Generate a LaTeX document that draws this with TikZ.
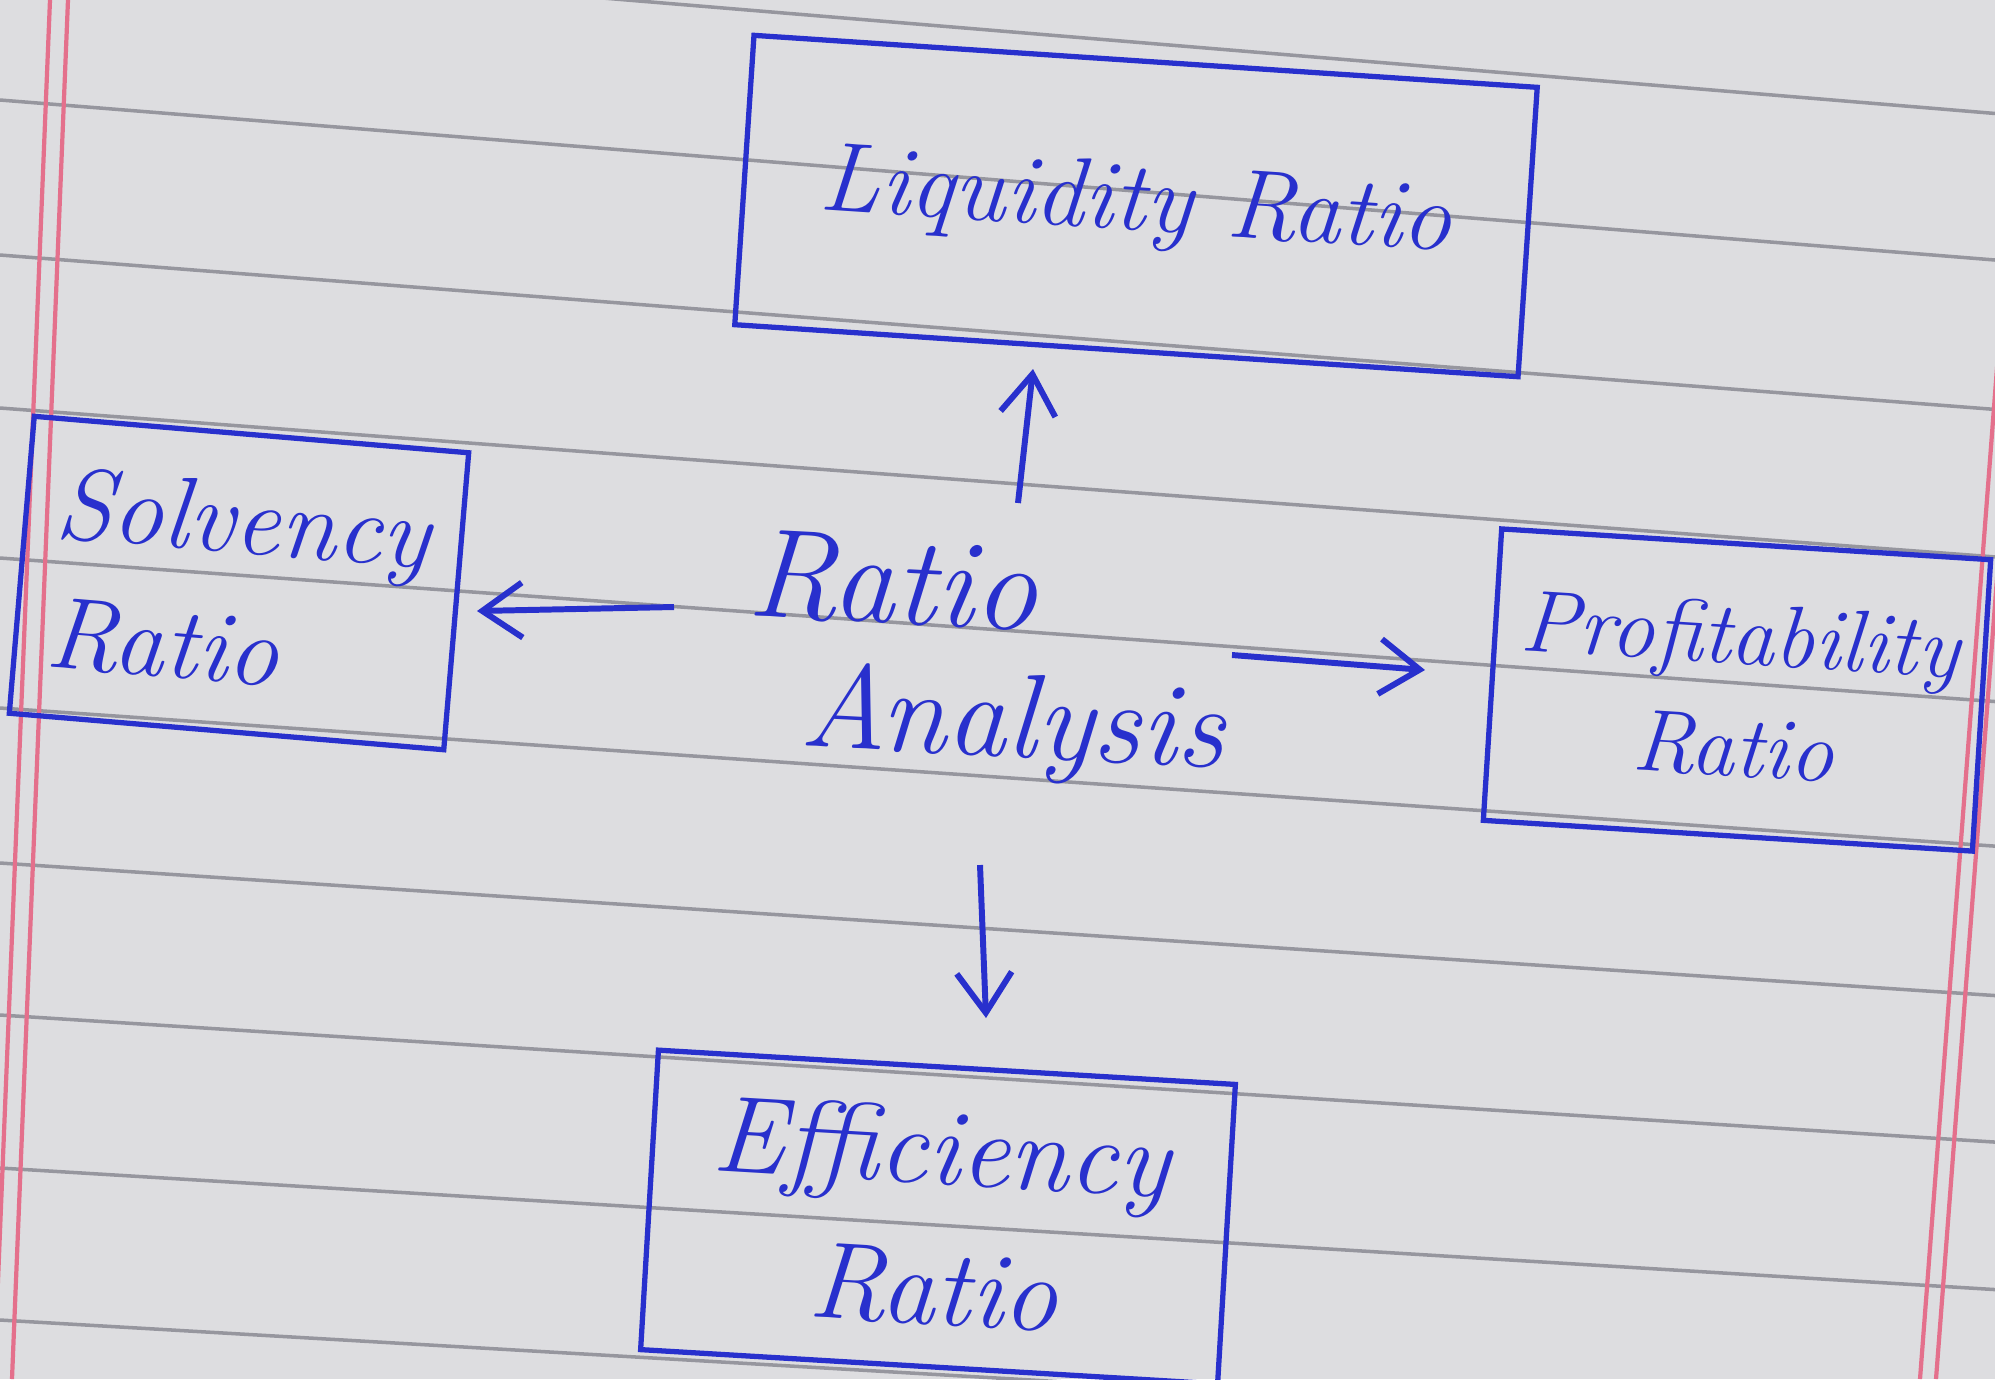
\documentclass[tikz,border=0pt]{standalone}
\usetikzlibrary{arrows.meta}
\definecolor{ink}{RGB}{40,48,205}
\definecolor{paper}{RGB}{221,221,224}
\definecolor{paperline}{RGB}{150,150,158}
\definecolor{marginred}{RGB}{228,112,140}
\begin{document}
\begin{tikzpicture}[
    box/.style={draw=ink, line width=1.5pt, text=ink, inner sep=0pt, align=center},
    txt/.style={text=ink, inner sep=0pt},
    arr/.style={draw=ink, line width=1.7pt, -{Straight Barb[length=4mm,width=5.5mm,line width=1.7pt]}}
]
    \fill[paper] (0,0) rectangle (19.95,-13.79);
    \useasboundingbox (0,0) rectangle (19.95,-13.79);
    \foreach \y in {-0.52,1.00,2.55,4.08,5.58,7.08,8.63,10.15,11.68,13.20}
        \draw[paperline, line width=1pt] (0,-\y) -- (19.95,{-(0.964*\y+1.636)});
    \foreach \x in {0.50,0.68}
        \draw[marginred, line width=1.2pt] (\x,0) -- (\x-0.56,-13.79);
    \foreach \x in {20.25,20.41}
        \draw[marginred, line width=1.2pt] (\x,0) -- (\x-1.05,-13.79);

    \node[box, rotate=-3.8, minimum width=7.85cm, minimum height=2.9cm,
          font=\itshape\fontsize{28}{34}\selectfont] (liq) at (11.36,-2.06) {Liquidity Ratio};
    \node[box, rotate=-4.8, minimum width=4.36cm, minimum height=2.98cm, align=left,
          font=\itshape\fontsize{29}{37}\selectfont] (solv) at (2.39,-5.83) {Solvency\\Ratio};
    \node[box, rotate=-3.6, minimum width=4.9cm, minimum height=2.92cm,
          font=\itshape\fontsize{25}{32}\selectfont] (prof) at (17.37,-6.90) {Profitability\\Ratio};
    \node[box, rotate=-3.4, minimum width=5.78cm, minimum height=3.0cm,
          font=\itshape\fontsize{31}{40}\selectfont] (eff) at (9.38,-12.17) {Efficiency\\Ratio};

    \node[txt, anchor=base, rotate=-3, font=\itshape\fontsize{36}{40}\selectfont] (ratio) at (8.91,-6.23) {Ratio};
    \node[txt, anchor=base, rotate=-3, font=\itshape\fontsize{34}{40}\selectfont] (analysis) at (10.11,-7.57) {Analysis};

    \coordinate (upS) at (10.18,-5.03);
    \coordinate (upE) at (10.33,-3.69);
    \coordinate (leftS) at (6.74,-6.07);
    \coordinate (leftE) at (4.77,-6.11);
    \coordinate (rightS) at (12.32,-6.55);
    \coordinate (rightE) at (14.25,-6.70);
    \coordinate (downS) at (9.80,-8.65);
    \coordinate (downE) at (9.86,-10.18);

    \draw[arr] (upS) -- (upE);
    \draw[arr] (leftS) -- (leftE);
    \draw[arr] (rightS) -- (rightE);
    \draw[arr] (downS) -- (downE);
\end{tikzpicture}
\end{document}
